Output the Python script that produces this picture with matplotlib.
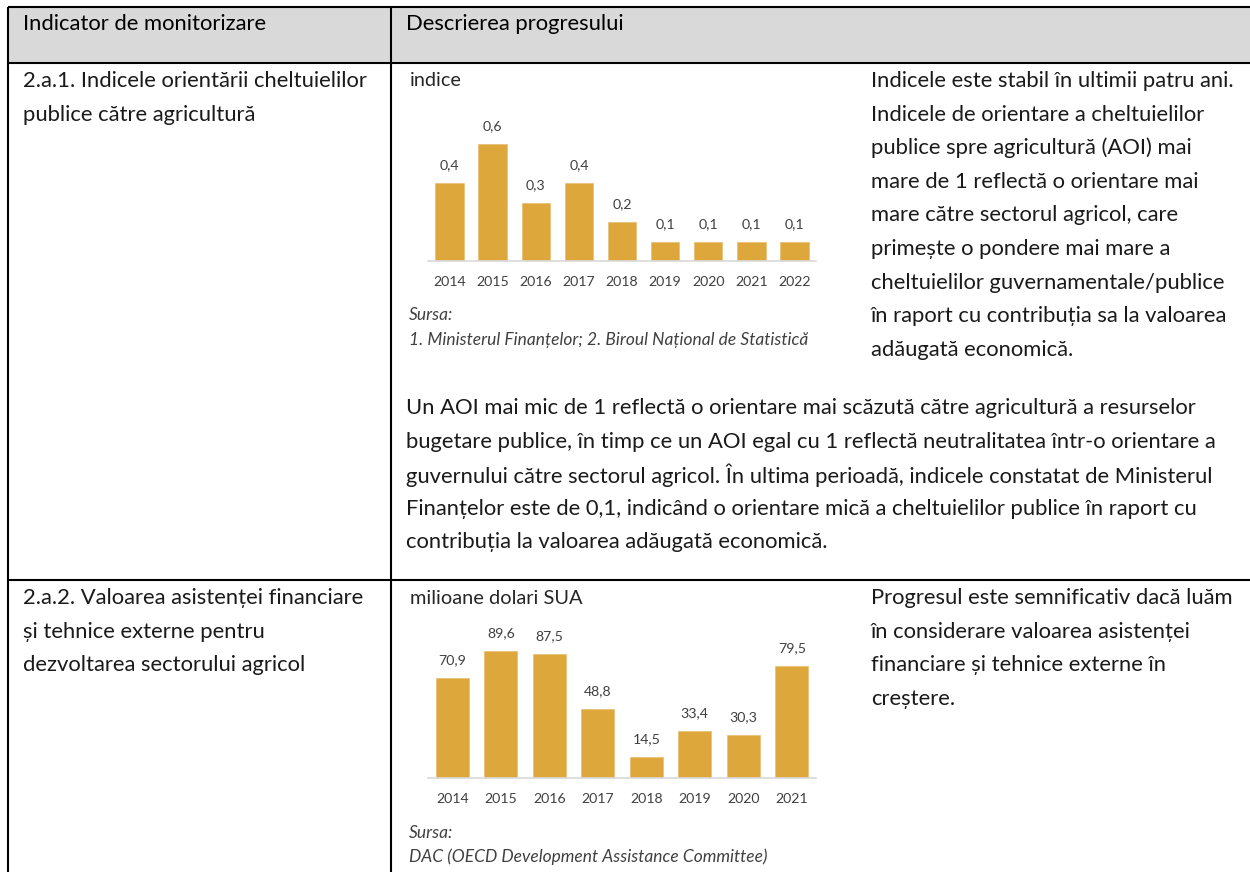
import matplotlib
matplotlib.use('Agg')
import matplotlib.pyplot as plt
from matplotlib.patches import Rectangle

plt.rcParams['font.family'] = ['Lato', 'DejaVu Sans']

# --- data -------------------------------------------------------------
years_aoi = ['2014', '2015', '2016', '2017', '2018', '2019', '2020', '2021', '2022']
aoi = [0.4, 0.6, 0.3, 0.4, 0.2, 0.1, 0.1, 0.1, 0.1]

years_asist = ['2014', '2015', '2016', '2017', '2018', '2019', '2020', '2021']
asist = [70.9, 89.6, 87.5, 48.8, 14.5, 33.4, 30.3, 79.5]

header_left = 'Indicator de monitorizare'
header_right = 'Descrierea progresului'

ind1 = ['2.a.1. Indicele orientării cheltuielilor',
        'publice către agricultură']
desc1 = ['Indicele este stabil în ultimii patru ani.',
         'Indicele de orientare a cheltuielilor',
         'publice spre agricultură (AOI) mai',
         'mare de 1 reflectă o orientare mai',
         'mare către sectorul agricol, care',
         'primește o pondere mai mare a',
         'cheltuielilor guvernamentale/publice',
         'în raport cu contribuția sa la valoarea',
         'adăugată economică.']
para1 = ['Un AOI mai mic de 1 reflectă o orientare mai scăzută către agricultură a resurselor',
         'bugetare publice, în timp ce un AOI egal cu 1 reflectă neutralitatea într-o orientare a',
         'guvernului către sectorul agricol. În ultima perioadă, indicele constatat de Ministerul',
         'Finanțelor este de 0,1, indicând o orientare mică a cheltuielilor publice în raport cu',
         'contribuția la valoarea adăugată economică.']
unit1 = 'indice'
src1 = ['Sursa:', '1. Ministerul Finanțelor; 2. Biroul Național de Statistică']

ind2 = ['2.a.2. Valoarea asistenței financiare',
        'și tehnice externe pentru',
        'dezvoltarea sectorului agricol']
desc2 = ['Progresul este semnificativ dacă luăm',
         'în considerare valoarea asistenței',
         'financiare și tehnice externe în',
         'creștere.']
unit2 = 'milioane dolari SUA'
src2 = ['Sursa:', 'DAC (OECD Development Assistance Committee)']

bar_color = '#DDA73B'
W, H = 1250, 872

fig = plt.figure(figsize=(W / 100, H / 100), dpi=100)
renderer = fig.canvas.get_renderer()

ax0 = fig.add_axes([0, 0, 1, 1])
ax0.set_xlim(0, W)
ax0.set_ylim(H, 0)
ax0.axis('off')


def fit(s, target, **kw):
    # font size that gives the string the wanted width in pixels
    t = ax0.text(0, 0, s, fontsize=10, **kw)
    w = t.get_window_extent(renderer).width
    t.remove()
    return 10 * target / w


def block(x, y0, lines, size, step=33.6, color='#1a1a1a', **kw):
    for i, s in enumerate(lines):
        ax0.text(x, y0 + i * step, s, fontsize=size, va='center', ha='left',
                 color=color, **kw)


# --- table ------------------------------------------------------------
ax0.add_patch(Rectangle((8, 7), W - 8, 56, facecolor='#D9D9D9', edgecolor='none'))
for y in [7, 63, 580]:
    ax0.plot([8, W], [y, y], color='black', lw=1.5, solid_capstyle='butt')
for x in [8, 391]:
    ax0.plot([x, x], [7, H], color='black', lw=1.5, solid_capstyle='butt')

hs = fit(header_left, 244)
ax0.text(23, 23.5, header_left, fontsize=hs, va='center', color='black')
ax0.text(406, 23.5, header_right, fontsize=hs, va='center', color='black')

ts = fit(desc1[0], 362)
block(23, 81, ind1, ts)
block(871, 81, desc1, ts)
block(406, 408, para1, fit(para1[1], 812), step=33.5)
block(23, 598, ind2, ts)
block(871, 598, desc2, ts)

# --- charts -----------------------------------------------------------
cs = fit('2014', 33)


def px_axes(x0, x1, ytop, ybot):
    return fig.add_axes([x0 / W, 1 - ybot / H, (x1 - x0) / W, (ybot - ytop) / H])


def bar_chart(ax, years, vals, width, top):
    bars = ax.bar(range(len(vals)), vals, width=width, color=bar_color,
                  edgecolor='#E9C27A', linewidth=0.6)
    ax.bar_label(bars, labels=[f'{v:.1f}'.replace('.', ',') for v in vals],
                 padding=8.5, fontsize=cs, color='#404040')
    ax.set_xlim(-0.5, len(vals) - 0.5)
    ax.set_ylim(0, top)
    ax.set_xticks(range(len(vals)), years)
    ax.set_yticks([])
    ax.tick_params(axis='x', length=0, pad=11, labelsize=cs, labelcolor='#404040')
    for sp in ['top', 'left', 'right']:
        ax.spines[sp].set_visible(False)
    ax.spines['bottom'].set_color('#D9D9D9')
    ax.spines['bottom'].set_linewidth(1.2)
    ax.patch.set_alpha(0)


ax1 = px_axes(428, 816, 100, 261)
bar_chart(ax1, years_aoi, aoi, 0.66, (261 - 100) / 195)

ax2 = px_axes(428, 816, 615, 777.7)
bar_chart(ax2, years_asist, asist, 0.68, (777.7 - 615) / 1.41)

ax0.text(410, 81, unit1, fontsize=fit(unit1, 52), va='center', color='#262626')
ss = fit(src1[1], 399, style='italic')
ax0.text(409, 315, src1[0], fontsize=ss, style='italic', va='center', color='#404040')
ax0.text(409, 340, src1[1], fontsize=ss, style='italic', va='center', color='#404040')

ax0.text(410, 598, unit2, fontsize=fit(unit2, 173), va='center', color='#262626')
ax0.text(409, 833, src2[0], fontsize=ss, style='italic', va='center', color='#404040')
ax0.text(409, 857, src2[1], fontsize=ss, style='italic', va='center', color='#404040')

fig.savefig('out.png', dpi=100)
